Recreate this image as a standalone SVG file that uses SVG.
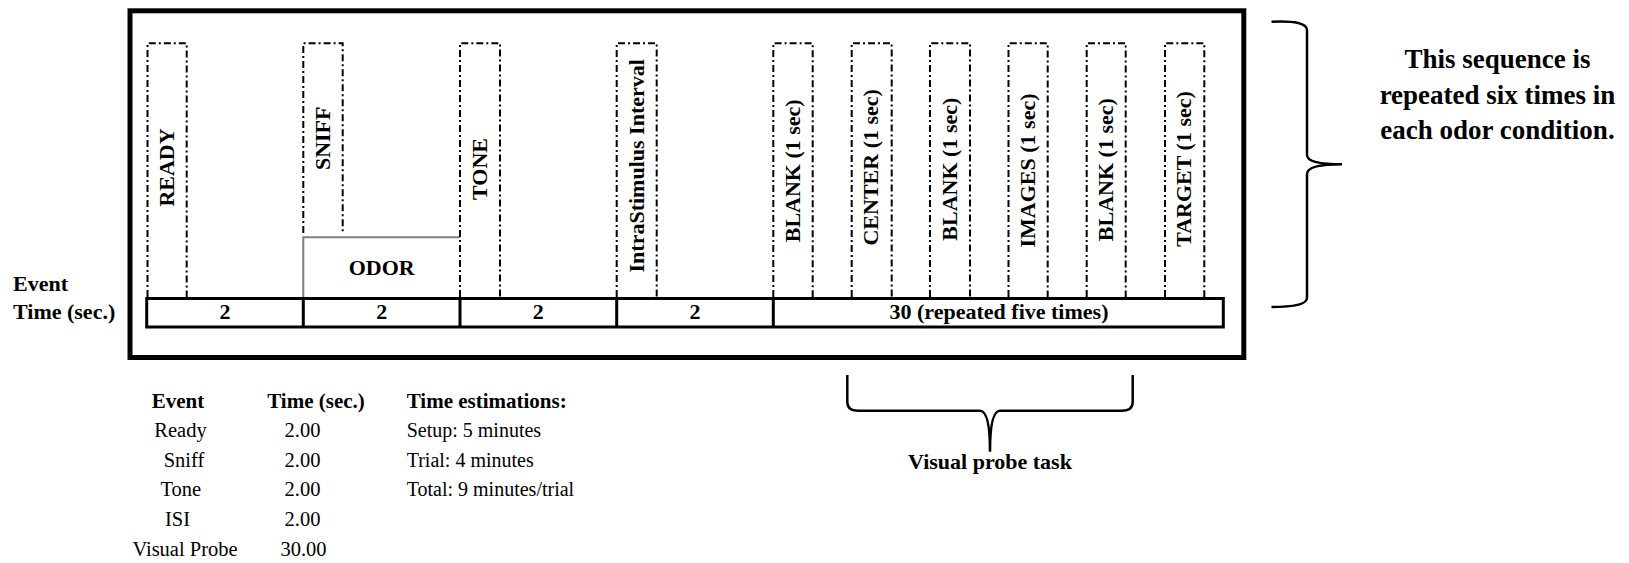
<svg xmlns="http://www.w3.org/2000/svg" width="1629" height="563" viewBox="0 0 1629 563">
<style>
.b{font-family:"Liberation Serif","Times New Roman",serif;font-weight:bold;fill:#000}
.r{font-family:"Liberation Serif","Times New Roman",serif;fill:#000}
.box{fill:none;stroke:#000;stroke-width:2;stroke-dasharray:7 3 2 3}
.seg{fill:none;stroke:#000;stroke-width:3}
.brace{fill:none;stroke:#000;stroke-width:2.5}
</style>
<rect width="1629" height="563" fill="#fff"/>
<g id="frame"><rect x="130" y="10.8" width="1113.8" height="346.7" fill="none" stroke="#000" stroke-width="5"/></g>

<g id="ready"><path class="box" d="M147.5,297 V43.3 H186.7 V297"/><text class="b" font-size="22" text-anchor="middle" transform="translate(173.5,167.5) rotate(-90)">READY</text></g>
<g id="sniff"><path class="box" d="M303.3,233 V43.3 H342.7 V233"/><text class="b" font-size="22" text-anchor="middle" transform="translate(330,138.3) rotate(-90)">SNIFF</text></g>
<g id="odor"><path d="M303.3,297 V237.3 H460" fill="none" stroke="#808080" stroke-width="2"/><text class="b" font-size="22" text-anchor="middle" x="381.7" y="275">ODOR</text></g>
<g id="tone"><path class="box" d="M460,297 V43.3 H500 V297"/><text class="b" font-size="22" text-anchor="middle" transform="translate(486.5,169) rotate(-90)">TONE</text></g>
<g id="isi"><path class="box" d="M616.7,297 V43.3 H656.7 V297"/><text class="b" font-size="22" text-anchor="middle" transform="translate(644,165.8) rotate(-90)">IntraStimulus Interval</text></g>
<g id="blank1"><path class="box" d="M773.3,297 V43.3 H812.7 V297"/><text class="b" font-size="22" text-anchor="middle" transform="translate(799.5,170.8) rotate(-90)">BLANK (1 sec)</text></g>
<g id="center"><path class="box" d="M851.7,297 V43.3 H891.7 V297"/><text class="b" font-size="22" text-anchor="middle" transform="translate(878,167.3) rotate(-90)">CENTER (1 sec)</text></g>
<g id="blank2"><path class="box" d="M930,297 V43.3 H970 V297"/><text class="b" font-size="22" text-anchor="middle" transform="translate(956.5,169.2) rotate(-90)">BLANK (1 sec)</text></g>
<g id="images"><path class="box" d="M1008.5,297 V43.3 H1047.7 V297"/><text class="b" font-size="22" text-anchor="middle" transform="translate(1034.5,170.5) rotate(-90)">IMAGES (1 sec)</text></g>
<g id="blank3"><path class="box" d="M1086.7,297 V43.3 H1125.7 V297"/><text class="b" font-size="22" text-anchor="middle" transform="translate(1112.5,169.7) rotate(-90)">BLANK (1 sec)</text></g>
<g id="target"><path class="box" d="M1165,297 V43.3 H1204.3 V297"/><text class="b" font-size="22" text-anchor="middle" transform="translate(1191,169) rotate(-90)">TARGET (1 sec)</text></g>

<g id="timeline">
<rect class="seg" x="146.7" y="298.5" width="1076.6" height="28.5"/>
<path class="seg" d="M303.3,298.5 V327 M460,298.5 V327 M616.7,298.5 V327 M773.3,298.5 V327"/>
<text class="b" font-size="22" text-anchor="middle" x="225" y="319">2</text>
<text class="b" font-size="22" text-anchor="middle" x="381.7" y="319">2</text>
<text class="b" font-size="22" text-anchor="middle" x="538.3" y="319">2</text>
<text class="b" font-size="22" text-anchor="middle" x="695" y="319">2</text>
<text class="b" font-size="22" text-anchor="middle" x="999" y="319">30 (repeated five times)</text>
</g>

<g id="axis-labels">
<text class="b" font-size="22" x="13" y="291">Event</text>
<text class="b" font-size="22" x="13" y="318.5">Time (sec.)</text>
</g>

<g id="connectors">
<path class="brace" d="M1271.5,21.7 Q1307,20 1307,30 L1307,155 Q1307,164.3 1342,164.3 Q1307,164.3 1307,174 L1307,298 Q1307,307 1271.5,307"/>
<path class="brace" d="M847.3,375 L847.3,402 Q847.3,410.7 858,410.7 L980,410.7 Q990,410.7 990,451.7 Q990,410.7 1000,410.7 L1122,410.7 Q1132.7,410.7 1132.7,402 L1132.7,375"/>
</g>

<g id="repeat-note">
<text class="b" font-size="27" text-anchor="middle" x="1497.5" y="68.3">This sequence is</text>
<text class="b" font-size="27" text-anchor="middle" x="1497.5" y="103.5">repeated six times in</text>
<text class="b" font-size="27" text-anchor="middle" x="1497.5" y="139">each odor condition.</text>
</g>

<g id="probe-label"><text class="b" font-size="22" text-anchor="middle" x="990" y="468.5">Visual probe task</text></g>

<g id="table">
<text class="b" font-size="21" text-anchor="middle" x="178" y="407.7">Event</text>
<text class="b" font-size="21" text-anchor="middle" x="316" y="407.7">Time (sec.)</text>
<text class="r" font-size="20.5" text-anchor="middle" x="180.5" y="437">Ready</text>
<text class="r" font-size="20.5" text-anchor="middle" x="184" y="466.7">Sniff</text>
<text class="r" font-size="20.5" text-anchor="middle" x="180.8" y="496">Tone</text>
<text class="r" font-size="20.5" text-anchor="middle" x="177.5" y="525.7">ISI</text>
<text class="r" font-size="20.5" text-anchor="middle" x="185" y="555.5">Visual Probe</text>
<text class="r" font-size="20.5" text-anchor="middle" x="302.5" y="437">2.00</text>
<text class="r" font-size="20.5" text-anchor="middle" x="302.5" y="466.7">2.00</text>
<text class="r" font-size="20.5" text-anchor="middle" x="302.5" y="496">2.00</text>
<text class="r" font-size="20.5" text-anchor="middle" x="302.5" y="525.7">2.00</text>
<text class="r" font-size="20.5" text-anchor="middle" x="303.5" y="555.5">30.00</text>
</g>

<g id="estimations">
<text class="b" font-size="21" x="406.7" y="407.7">Time estimations:</text>
<text class="r" font-size="20" x="406.7" y="437">Setup: 5 minutes</text>
<text class="r" font-size="20" x="406.7" y="466.7">Trial: 4 minutes</text>
<text class="r" font-size="20" x="406.7" y="496">Total: 9 minutes/trial</text>
</g>
</svg>
